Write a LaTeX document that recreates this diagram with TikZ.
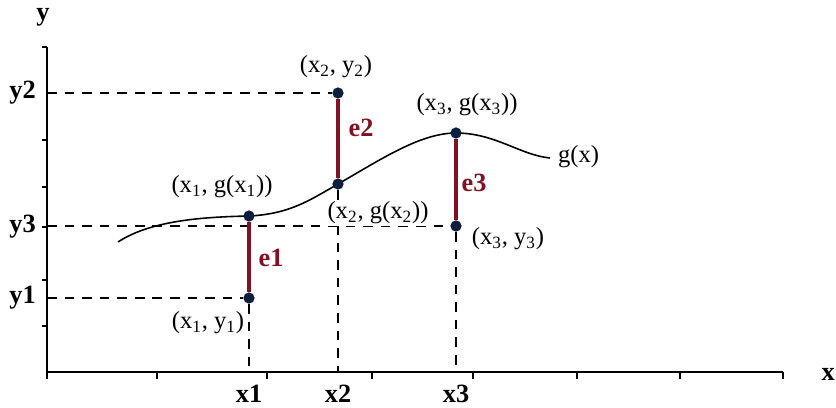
\documentclass[tikz,border=0pt]{standalone}
\usepackage{fontspec}
\setmainfont{Liberation Serif}
\usepackage{xcolor}
\usetikzlibrary{calc}
\definecolor{errred}{RGB}{128,18,36}
\definecolor{ptblue}{RGB}{14,30,62}
\tikzset{every node/.append style={font=\fontsize{14}{16}\selectfont}}

\begin{document}
\begin{tikzpicture}[x=0.02cm, y=-0.02cm, >=stealth,
    axis/.style={line width=1.1pt},
    guide/.style={line width=0.8pt, dash pattern=on 5.5pt off 4.5pt},
    errbar/.style={line width=2.4pt, errred},
    pt/.style={circle, fill=ptblue, inner sep=0pt, minimum size=6.4pt},
    lbl/.style={inner sep=1pt},
    tck/.style={font=\fontsize{15}{17}\selectfont\bfseries},
    elbl/.style={font=\fontsize{15}{17}\selectfont\bfseries, text=errred}]
    \useasboundingbox (0,0) rectangle (836,407);
    % axes
    \coordinate (O) at (47,372);
    \coordinate (ytop) at (47,47);
    \coordinate (xend) at (783,372);
    \draw[axis] (ytop) -- (O) -- (xend);
    \foreach \t in {47,140,187,227,280,326} {
        \draw[axis] (42,\t) -- (47,\t);
    }
    \foreach \t in {47,157,267,372,473,577,680,783} {
        \draw[axis] (\t,372) -- (\t,379);
    }
    \node[tck] (ylab) at (43,17) {y};
    \node[tck, anchor=east, inner sep=0.5pt] (xlab) at (836,374) {x};
    % g(x)
    \draw[line width=0.9pt] (118,242) .. controls (150,221) and (200,217) .. (249,216)
        .. controls (290,214) and (310,200) .. (338,184)
        .. controls (380,160) and (420,133) .. (456,133)
        .. controls (495,133) and (520,155) .. (550,158);
    \node[lbl, anchor=west] (gx) at (556,157) {g(x)};
    % the points
    \node[pt] (p1) at (249,298) {};
    \node[pt] (g1) at (249,216) {};
    \node[pt] (p2) at (338,93) {};
    \node[pt] (g2) at (338,184) {};
    \node[pt] (g3) at (456,133) {};
    \node[pt] (p3) at (456,226) {};
    % guides to the axes
    \draw[guide] (p1 -| O) -- (p1) -- (p1 |- O);
    \draw[guide] (p2 -| O) -- (p2);
    \draw[guide] (g2) -- (g2 |- O);
    \draw[guide] (p3 -| O) -- (p3) -- (p3 |- O);
    % errors
    \draw[errbar] (g1) -- (p1);
    \draw[errbar] (p2) -- (g2);
    \draw[errbar] (g3) -- (p3);
    \node[elbl] (e1) at (271,258) {e1};
    \node[elbl] (e2) at (361,128) {e2};
    \node[elbl] (e3) at (474,183) {e3};
    % point labels
    \node[lbl] (lg1) at (222,187) {(x\textsubscript{1}, g(x\textsubscript{1}))};
    \node[lbl] (lp1) at (208,323) {(x\textsubscript{1}, y\textsubscript{1})};
    \node[lbl] (lp2) at (336,67) {(x\textsubscript{2}, y\textsubscript{2})};
    \node[lbl, fill=white] (lg2) at (378,213) {(x\textsubscript{2}, g(x\textsubscript{2}))};
    \node[lbl] (lg3) at (467,105) {(x\textsubscript{3}, g(x\textsubscript{3}))};
    \node[lbl] (lp3) at (508,239) {(x\textsubscript{3}, y\textsubscript{3})};
    % tick labels
    \node[tck, anchor=east] (y2) at (42,93) {y2};
    \node[tck, anchor=east] (y3) at (42,227) {y3};
    \node[tck, anchor=east] (y1) at (42,298) {y1};
    \node[tck] (x1) at (249,394) {x1};
    \node[tck] (x2) at (338,394) {x2};
    \node[tck] (x3) at (456,394) {x3};
\end{tikzpicture}
\end{document}
